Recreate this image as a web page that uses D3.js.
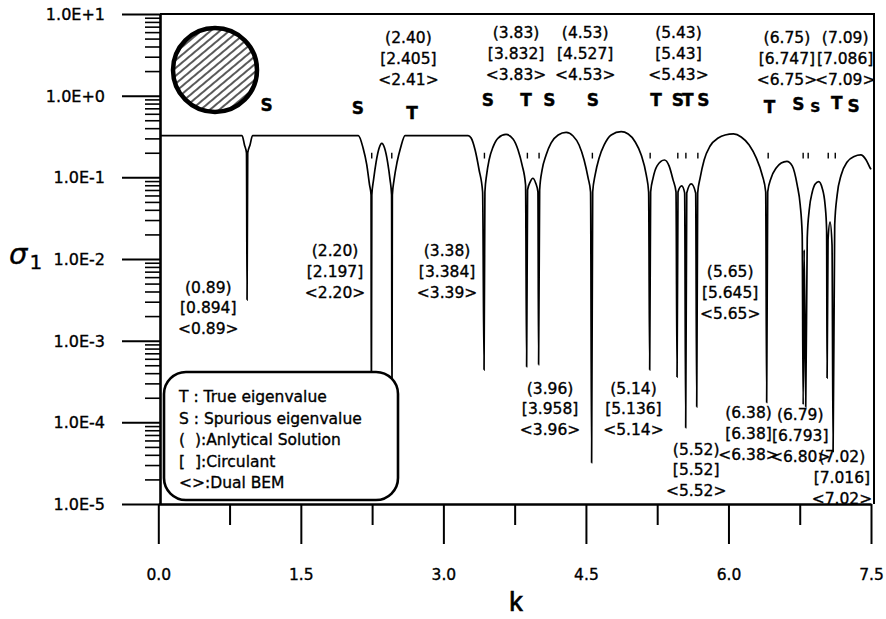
<!DOCTYPE html>
<html>
<head>
<meta charset="utf-8">
<script src="https://cdn.jsdelivr.net/npm/d3@7"></script>
<style>
  body { margin: 0; background: #fff; }
  text { font-family: "DejaVu Sans", sans-serif; fill: #000; stroke: #000; stroke-width: 0.35px; }
</style>
</head>
<body>
<div id="chart"></div>
<script>
// sigma_1 against k
var curvePoints = [
  [0.02, 0.325], [0.881, 0.325], [0.907, 0.249], [0.928, 0.199], [0.934, 0.00316], [0.941, 0.199], [0.965, 0.249], [0.992, 0.325],
  [2.105, 0.325], [2.155, 0.229], [2.194, 0.142], [2.223, 0.0807], [2.239, 0.061], [2.242, 0.0001], [2.247, 0.061], [2.265, 0.093],
  [2.292, 0.154], [2.324, 0.229], [2.352, 0.261], [2.381, 0.229], [2.413, 0.154], [2.439, 0.093], [2.455, 0.061], [2.459, 0.0001],
  [2.463, 0.061], [2.481, 0.093], [2.513, 0.154], [2.549, 0.229], [2.597, 0.325],
  [3.26, 0.325], [3.292, 0.303], [3.334, 0.216], [3.376, 0.123], [3.413, 0.0662], [3.428, 0.00044], [3.437, 0.0662], [3.455, 0.107],
  [3.481, 0.163], [3.523, 0.236], [3.576, 0.303], [3.66, 0.335], [3.733, 0.295], [3.786, 0.216], [3.828, 0.142], [3.865, 0.0807],
  [3.876, 0.00048], [3.886, 0.0702], [3.914, 0.088], [3.941, 0.0975], [3.971, 0.0853], [3.995, 0.0662], [4.002, 0.00051], [4.013, 0.0702],
  [4.039, 0.123], [4.081, 0.188], [4.134, 0.264], [4.208, 0.33], [4.292, 0.355], [4.365, 0.321], [4.428, 0.249], [4.481, 0.163],
  [4.523, 0.0984], [4.549, 0.0662], [4.56, 0.000032], [4.571, 0.0662], [4.597, 0.107], [4.639, 0.173], [4.692, 0.249], [4.766, 0.33],
  [4.871, 0.362], [4.945, 0.34], [5.019, 0.271], [5.082, 0.188], [5.135, 0.107], [5.16, 0.0662], [5.171, 0.00044], [5.181, 0.0662],
  [5.207, 0.0984], [5.249, 0.138], [5.326, 0.163], [5.375, 0.138], [5.417, 0.093], [5.448, 0.0662], [5.459, 0.00036], [5.469, 0.0662],
  [5.508, 0.0785], [5.539, 0.0644], [5.55, 0.000086], [5.561, 0.0644], [5.608, 0.083], [5.655, 0.0644], [5.666, 0.000155], [5.676, 0.0644],
  [5.702, 0.0984], [5.744, 0.163], [5.807, 0.242], [5.892, 0.303], [5.965, 0.33], [6.053, 0.34], [6.134, 0.312], [6.218, 0.249],
  [6.292, 0.173], [6.355, 0.107], [6.392, 0.0662], [6.402, 0.000175], [6.413, 0.0662], [6.449, 0.0984], [6.502, 0.13], [6.555, 0.15],
  [6.615, 0.157], [6.671, 0.138], [6.723, 0.0807], [6.755, 0.0459], [6.776, 0.0197], [6.786, 0.000165], [6.797, 0.0129], [6.813, 0.000155],
  [6.829, 0.0181], [6.85, 0.0399], [6.882, 0.0662], [6.913, 0.083], [6.95, 0.0886], [6.986, 0.0741], [7.017, 0.0459], [7.033, 0.0227],
  [7.038, 0.00035], [7.048, 0.0171], [7.069, 0.0284], [7.09, 0.0149], [7.101, 0.000044], [7.118, 0.0261], [7.144, 0.061], [7.186, 0.107],
  [7.249, 0.154], [7.323, 0.18], [7.392, 0.188], [7.449, 0.163], [7.491, 0.13], [7.5, 0.125]
];

// little marks above each eigenvalue
var markK = [2.246, 2.457, 3.432, 3.884, 4.007, 4.568, 5.176, 5.467, 5.552, 5.678, 6.418, 6.786, 6.839, 7.05, 7.124];

// T / S letters
var letterText = ["S", "S", "T", "S", "T", "S", "S", "T", "S", "T", "S", "T", "S", "S", "T", "S"];
var letterK = [1.141, 2.099, 2.671, 3.467, 3.871, 4.116, 4.573, 5.239, 5.467, 5.573, 5.737, 6.432, 6.737, 6.913, 7.141, 7.316];
var letterSigma = [0.769, 0.707, 0.619, 0.886, 0.886, 0.886, 0.886, 0.886, 0.886, 0.886, 0.886, 0.733, 0.785, 0.733, 0.807, 0.748];

// eigenvalue annotations: (analytical) [circulant] <dual BEM>
var analytic = ["(2.40)", "(3.83)", "(4.53)", "(5.43)", "(6.75)", "(7.09)",
  "(0.89)", "(2.20)", "(3.38)", "(3.96)", "(5.14)", "(5.65)", "(5.52)", "(6.38)", "(6.79)", "(7.02)"];
var circulant = ["[2.405]", "[3.832]", "[4.527]", "[5.43]", "[6.747]", "[7.086]",
  "[0.894]", "[2.197]", "[3.384]", "[3.958]", "[5.136]", "[5.645]", "[5.52]", "[6.38]", "[6.793]", "[7.016]"];
var dualBem = ["<2.41>", "<3.83>", "<4.53>", "<5.43>", "<6.75>", "<7.09>",
  "<0.89>", "<2.20>", "<3.39>", "<3.96>", "<5.14>", "<5.65>", "<5.52>", "<6.38>", "<6.80>", "<7.02>"];
var groupK = [2.632, 3.765, 4.492, 5.474, 6.615, 7.228,
  0.526, 1.86, 3.039, 4.123, 5.0, 6.018, 5.66, 6.211, 6.755, 7.194];
var groupSigma = [5.08, 5.85, 5.85, 5.85, 5.08, 5.08,
  0.00452, 0.01267, 0.01267, 0.000262, 0.000262, 0.00701, 0.000047, 0.00013, 0.000124, 0.0000381];

var legendLines = ["T : True eigenvalue", "S : Spurious eigenvalue", "(  ):Anlytical Solution", "[  ]:Circulant", "<>:Dual BEM"];

var yMajor = [1e-5, 1e-4, 1e-3, 1e-2, 1e-1, 1, 10];
var yTickLabels = ["1.0E-5", "1.0E-4", "1.0E-3", "1.0E-2", "1.0E-1", "1.0E+0", "1.0E+1"];
var xMajor = [0, 1.5, 3, 4.5, 6, 7.5];
var xTickLabels = ["0.0", "1.5", "3.0", "4.5", "6.0", "7.5"];
var xMinor = [0.75, 2.25, 3.75, 5.25, 6.75];

var width = 886,
  height = 619,
  lineGap = 20.8;

var x = d3.scaleLinear().domain([0, 7.5]).range([158.3, 871]);
var y = d3.scaleLog().domain([1e-5, 10]).range([504, 14]);
var frameRight = 874;

var svg = d3
  .select("#chart")
  .append("svg")
  .attr("width", width)
  .attr("height", height);

var defs = svg.append("defs");

defs
  .append("clipPath")
  .attr("id", "plotClip")
  .append("rect")
  .attr("x", x(0))
  .attr("y", y(10))
  .attr("width", frameRight - x(0))
  .attr("height", y(1e-5) - y(10));

//hatching for the little disk
var hatch = defs
  .append("pattern")
  .attr("id", "hatch")
  .attr("patternUnits", "userSpaceOnUse")
  .attr("width", 6)
  .attr("height", 6)
  .attr("patternTransform", "rotate(-40)");
hatch
  .append("line")
  .attr("x1", 0)
  .attr("y1", 3)
  .attr("x2", 6)
  .attr("y2", 3)
  .attr("stroke", "#000")
  .attr("stroke-width", 1.3);

//minor log ticks on y
var yMinor = [];
yMajor.slice(0, -1).forEach(function(d) {
  for (var m = 2; m <= 9; m++) yMinor.push(d * m);
});

svg
  .append("g")
  .attr("transform", "translate(160,0)")
  .call(d3.axisLeft(y).tickValues(yMinor).tickSize(15).tickFormat(""))
  .call(function(g) {
    g.select(".domain").remove();
    g.selectAll("line").attr("stroke-width", 1.6);
  });

//major y ticks with E labels
svg
  .append("g")
  .attr("transform", "translate(160,0)")
  .call(
    d3
      .axisLeft(y)
      .tickValues(yMajor)
      .tickSize(38)
      .tickSizeOuter(0)
      .tickPadding(17)
      .tickFormat(function(d, i) {
        return yTickLabels[i];
      })
  )
  .call(function(g) {
    g.attr("font-family", null).attr("font-size", null);
    g.select(".domain").attr("stroke-width", 2.6);
    g.selectAll("line").attr("stroke-width", 2);
    g.selectAll("text").attr("font-size", "16px").attr("dy", "0.35em");
  });

//x axis
svg
  .append("g")
  .attr("transform", "translate(0,504)")
  .call(d3.axisBottom(x).tickValues(xMinor).tickSize(21).tickFormat(""))
  .call(function(g) {
    g.select(".domain").remove();
    g.selectAll("line").attr("stroke-width", 2);
  });

svg
  .append("g")
  .attr("transform", "translate(0,504)")
  .call(
    d3
      .axisBottom(x)
      .tickValues(xMajor)
      .tickSize(40)
      .tickSizeOuter(0)
      .tickPadding(25)
      .tickFormat(function(d, i) {
        return xTickLabels[i];
      })
  )
  .call(function(g) {
    g.attr("font-family", null).attr("font-size", null);
    g.select(".domain").attr("stroke-width", 2.6);
    g.selectAll("line").attr("stroke-width", 2);
    g.selectAll("text").attr("font-size", "15.5px");
  });

//top and right frame
svg
  .append("path")
  .attr("d", "M160," + y(10) + "H" + frameRight + "V" + y(1e-5))
  .attr("fill", "none")
  .attr("stroke", "#000")
  .attr("stroke-width", 2);

//the sigma curve
var line = d3
  .line()
  .x(function(d) {
    return x(d[0]);
  })
  .y(function(d) {
    return y(d[1]);
  })
  .curve(d3.curveMonotoneX);

svg
  .append("path")
  .datum(curvePoints)
  .attr("clip-path", "url(#plotClip)")
  .attr("fill", "none")
  .attr("stroke", "#000")
  .attr("stroke-width", 1.7)
  .attr("d", line);

svg
  .selectAll(".mark")
  .data(markK)
  .enter()
  .append("line")
  .attr("class", "mark")
  .attr("x1", function(d) { return x(d); })
  .attr("x2", function(d) { return x(d); })
  .attr("y1", y(0.2))
  .attr("y2", y(0.17))
  .attr("stroke", "#000")
  .attr("stroke-width", 1.4);

//T and S letters
svg
  .selectAll(".letter")
  .data(letterText)
  .enter()
  .append("text")
  .attr("class", "letter")
  .attr("x", function(d, i) { return x(letterK[i]); })
  .attr("y", function(d, i) { return y(letterSigma[i]); })
  .attr("dy", "0.36em")
  .attr("text-anchor", "middle")
  .attr("font-size", function(d, i) { return i == 13 ? "14px" : "17px"; })
  .attr("font-weight", "bold")
  .text(function(d) { return d; });

//three-line eigenvalue labels
var groups = svg
  .selectAll(".eig")
  .data(analytic)
  .enter()
  .append("text")
  .attr("class", "eig")
  .attr("text-anchor", "middle")
  .attr("font-size", "15.5px");

groups.each(function(d, i) {
  var t = d3.select(this);
  [analytic[i], circulant[i], dualBem[i]].forEach(function(s, j) {
    t.append("tspan")
      .attr("x", x(groupK[i]))
      .attr("y", y(groupSigma[i]) + j * lineGap)
      .attr("dy", "0.35em")
      .text(s);
  });
});

//legend box
svg
  .append("rect")
  .attr("x", 164)
  .attr("y", 372)
  .attr("width", 234)
  .attr("height", 128)
  .attr("rx", 22)
  .attr("fill", "#fff")
  .attr("stroke", "#000")
  .attr("stroke-width", 2.6);

svg
  .selectAll(".legend")
  .data(legendLines)
  .enter()
  .append("text")
  .attr("class", "legend")
  .attr("x", 179)
  .attr("y", function(d, i) { return 396.7 + i * 21.5; })
  .attr("dy", "0.36em")
  .attr("font-size", "15.5px")
  .style("white-space", "pre")
  .text(function(d) { return d; });

//hatched disk inset
svg
  .append("circle")
  .attr("cx", 215)
  .attr("cy", 70)
  .attr("r", 42)
  .attr("fill", "url(#hatch)")
  .attr("stroke", "#000")
  .attr("stroke-width", 4.5);

//axis titles
var ylab = svg
  .append("text")
  .attr("x", 9)
  .attr("y", 264)
  .attr("font-family", "Liberation Serif, serif");
ylab
  .append("tspan")
  .attr("font-size", "29px")
  .attr("font-style", "italic")
  .text("σ");
ylab
  .append("tspan")
  .attr("font-size", "20px")
  .attr("dx", 2)
  .attr("dy", 5)
  .text("1");

svg
  .append("text")
  .attr("x", 516)
  .attr("y", 611)
  .attr("text-anchor", "middle")
  .attr("font-size", "27px")
  .style("font-family", "Liberation Sans, sans-serif")
  .style("stroke-width", "0.7px")
  .text("k");
</script>
</body>
</html>
